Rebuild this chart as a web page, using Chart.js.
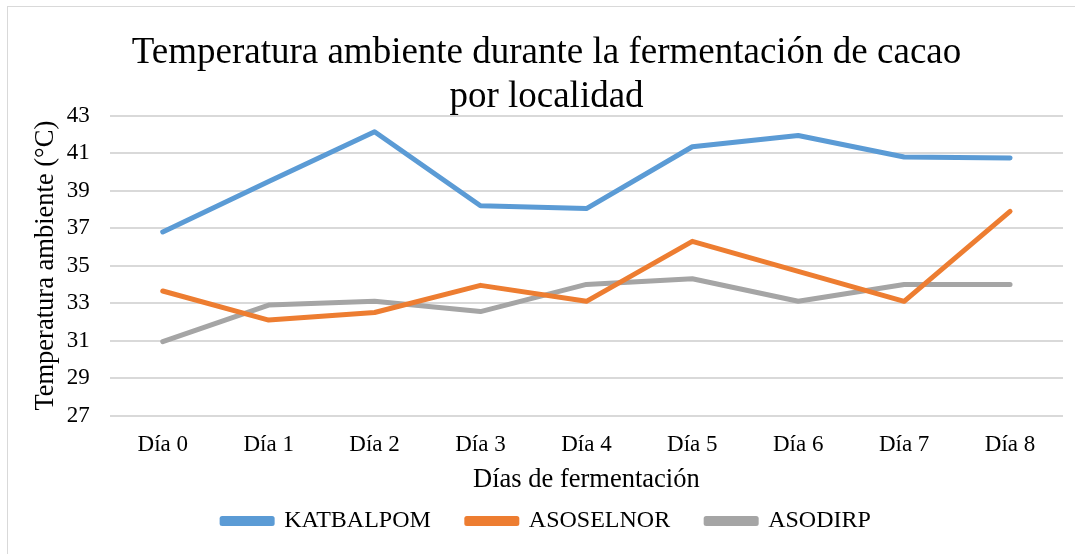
<!DOCTYPE html>
<html>
<head>
<meta charset="utf-8">
<script src="https://cdn.jsdelivr.net/npm/chart.js@4"></script>
<style>
  body { margin: 0; background: #fff; overflow: hidden; }
  #wrap { position: relative; width: 1075px; height: 554px; }
  #frame { position: absolute; left: 7px; top: 6px; width: 1100px; height: 600px; border: 1px solid #d9d9d9; pointer-events: none; }
</style>
</head>
<body>
<div id="wrap">
  <canvas id="myChart" width="1075" height="554"></canvas>
  <div id="frame"></div>
</div>
<script>
var dias = ["Día 0", "Día 1", "Día 2", "Día 3", "Día 4", "Día 5", "Día 6", "Día 7", "Día 8"];
var katbalpom = [36.8, 39.5, 42.15, 38.2, 38.05, 41.35, 41.95, 40.8, 40.75];
var asoselnor = [33.65, 32.1, 32.5, 33.95, 33.1, 36.3, 34.7, 33.1, 37.9];
var asodirp = [30.95, 32.9, 33.1, 32.55, 34.0, 34.3, 33.1, 34.0, 34.0];

var serif = "'Liberation Serif', 'Times New Roman', serif";
Chart.defaults.font.family = serif;
Chart.defaults.color = '#000';

var ctx = document.getElementById('myChart').getContext('2d');
var myChart = new Chart(ctx, {
    type: 'line',
    data: {
        labels: dias,
        datasets: [{
                label: "KATBALPOM",
                data: katbalpom,
                borderWidth: 5,
                borderColor: '#5B9BD5',
                backgroundColor: '#5B9BD5',
            },
            {
                label: "ASOSELNOR",
                data: asoselnor,
                borderWidth: 5,
                borderColor: '#ED7D31',
                backgroundColor: '#ED7D31',
            },
            {
                label: "ASODIRP",
                data: asodirp,
                borderWidth: 5,
                borderColor: '#A5A5A5',
                backgroundColor: '#A5A5A5',
            },
        ]
    },
    options: {
        responsive: false,
        animation: false,
        layout: { padding: { left: 30, right: 12, top: 0, bottom: 11 } },
        elements: { point: { radius: 0 }, line: { tension: 0, borderCapStyle: 'round', borderJoinStyle: 'round' } },
        scales: {
            x: {
                offset: true,
                grid: { display: false, drawTicks: false },
                border: { display: false },
                ticks: { font: { size: 23 }, padding: 16 },
                title: { display: true, text: "Días de fermentación", font: { size: 26.5 }, padding: { top: -11.5, bottom: -22.5 } }
            },
            y: {
                min: 27,
                max: 43,
                ticks: { stepSize: 2, font: { size: 23 }, padding: 20 },
                grid: { color: '#d9d9d9', lineWidth: 2, drawTicks: false },
                border: { display: false },
                title: { display: true, text: "Temperatura ambiente (°C)", font: { size: 26.5 }, padding: { top: 0, bottom: -15 } }
            }
        },
        plugins: {
            title: {
                display: true,
                text: ["Temperatura ambiente durante la fermentación de cacao", "por localidad"],
                font: { size: 37, weight: 'normal' },
                lineHeight: 1.17,
                padding: { top: 31, bottom: -4 }
            },
            legend: {
                position: 'bottom',
                labels: { boxWidth: 50, boxHeight: 5, font: { size: 24 }, padding: 36 }
            },
            tooltip: { enabled: false }
        }
    }
});
</script>
</body>
</html>
